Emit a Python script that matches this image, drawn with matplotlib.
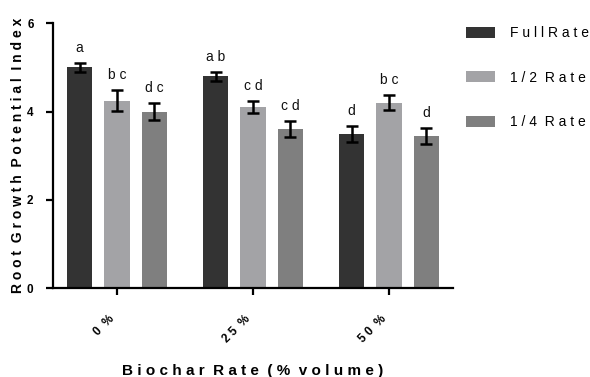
import numpy as np
import matplotlib
matplotlib.use("Agg")
import matplotlib.pyplot as plt

plt.rcParams["font.family"] = ["Liberation Sans", "DejaVu Sans"]

# Root growth potential by biochar rate and fertiliser rate
biochar = ["0%", "25%", "50%"]
rates = ["Full Rate", "1/2 Rate", "1/4 Rate"]
means = {
    "Full Rate": [5.0, 4.8, 3.5],
    "1/2 Rate": [4.25, 4.1, 4.2],
    "1/4 Rate": [4.0, 3.6, 3.45],
}
errors = {
    "Full Rate": [0.1, 0.1, 0.18],
    "1/2 Rate": [0.23, 0.13, 0.17],
    "1/4 Rate": [0.2, 0.18, 0.18],
}
letters = {
    "Full Rate": ["a", "a b", "d"],
    "1/2 Rate": ["b c", "c d", "b c"],
    "1/4 Rate": ["d c", "c d", "d"],
}
colors = ["#333333", "#a3a3a6", "#7f7f7f"]


def spaced(s, gap="  "):
    return gap.join(" ".join(w) for w in s.split())


fig = plt.figure(figsize=(5.9, 3.77), dpi=100)
ax = fig.add_axes([0.0898, 0.236, 0.678, 0.702])

x = np.arange(len(biochar))
width = 0.185
offsets = [-0.275, 0.0, 0.275]

for rate, col, off in zip(rates, colors, offsets):
    gap = " " if rate.startswith("Full") else "  "
    ax.bar(x + off, means[rate], width, color=col, label=spaced(rate, gap),
           edgecolor="none", zorder=2)
    ax.errorbar(x + off, means[rate], yerr=errors[rate], fmt="none",
                ecolor="black", elinewidth=1.8, capsize=4.5, capthick=1.8,
                zorder=3)
    for xi, m, e, lab in zip(x, means[rate], errors[rate], letters[rate]):
        ax.text(xi + off, m + e + 0.34, lab, ha="center", va="center",
                fontsize=10, color="#111111")

ax.set_xlim(-0.47, 2.47)
ax.set_ylim(0, 6)
ax.set_yticks([0, 2, 4, 6])
ax.set_yticklabels(["0", "2", "4", "6"], fontweight="bold", fontsize=8.5)
ax.set_xticks(x)
ax.set_xticklabels([spaced(b.replace("%", " %")) for b in biochar],
                   rotation=45, ha="right", fontweight="bold", fontsize=8.5)

for side in ["top", "right"]:
    ax.spines[side].set_visible(False)
for side in ["left", "bottom"]:
    ax.spines[side].set_linewidth(1.6)
ax.tick_params(axis="both", width=1.6, length=5)
ax.tick_params(axis="x", pad=13)
ax.tick_params(axis="y", pad=9)

ax.set_ylabel(spaced("Root Growth Potential Index"), fontweight="bold",
              fontsize=10)
ax.yaxis.set_label_coords(-0.07, 0.5)
ax.set_xlabel(spaced("Biochar Rate (% volume)"), fontweight="bold",
              fontsize=11)
ax.xaxis.set_label_coords(0.5, -0.287)

ax.legend(loc="upper left", bbox_to_anchor=(1.019, 1.011), frameon=False,
          fontsize=10, handlelength=2.1, handleheight=0.85,
          handletextpad=1.07, labelspacing=2.2, borderaxespad=0)

fig.savefig("out.png", dpi=100)
